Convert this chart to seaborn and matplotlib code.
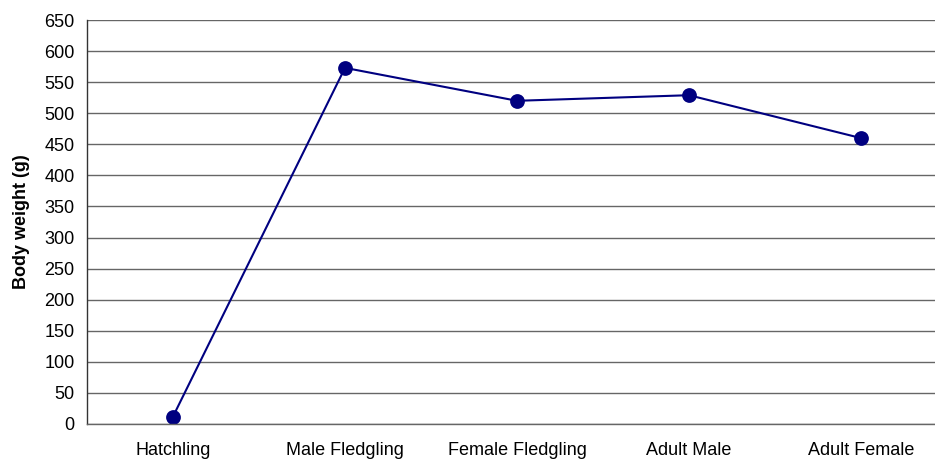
import matplotlib
matplotlib.use("Agg")
import matplotlib.pyplot as plt
import seaborn as sns
import numpy as np
import pandas as pd

categories = ["Hatchling", "Male Fledgling", "Female Fledgling", "Adult Male", "Adult Female"]
body_weight = [12, 573, 520, 529, 460]
y_ticks = list(range(0, 651, 50))

sns.set_style("white")
plt.rcParams['font.family'] = ['Liberation Sans', 'DejaVu Sans']
plt.rcParams['text.color'] = 'black'
plt.rcParams['axes.labelcolor'] = 'black'
plt.rcParams['xtick.color'] = 'black'
plt.rcParams['ytick.color'] = 'black'

W, H = 935, 462
fig = plt.figure(figsize=(W / 100, H / 100), dpi=100)
left, right, top, bottom = 87, 947, 20, 424
ax = fig.add_axes([left / W, (H - bottom) / H, (right - left) / W, (bottom - top) / H])

df = pd.DataFrame({"stage": categories, "weight": body_weight})
sns.pointplot(data=df, x="stage", y="weight", ax=ax, color="#000080",
              markers="o", markersize=9.5, linewidth=1.5, errorbar=None)

ax.set_xlim(-0.5, len(categories) - 0.5)
ax.set_ylim(0, 650)
ax.set_yticks(y_ticks)
ax.set_yticklabels([str(v) for v in y_ticks], fontsize=13, color="black")
ax.set_xticks(range(len(categories)))
ax.set_xticklabels(categories, fontsize=13, color="black")
ax.set_xticks(np.arange(-0.5, len(categories) + 0.5, 1), minor=True)
ax.tick_params(axis="x", which="major", length=0, pad=13)
ax.tick_params(axis="x", which="minor", length=4, width=1, color="#555555", direction="out")
ax.tick_params(axis="y", which="major", length=4, width=1, color="#555555", direction="out", pad=5)

ax.yaxis.grid(True, color="#666666", linewidth=1)
ax.set_axisbelow(True)
for s in ["top", "right"]:
    ax.spines[s].set_visible(False)
ax.spines["left"].set_color("#333333")
ax.spines["bottom"].set_color("#666666")
ax.spines["left"].set_linewidth(1)
ax.spines["bottom"].set_linewidth(1)

ax.set_xlabel("")
ax.set_ylabel("Body weight (g)", fontsize=13, fontweight="bold", labelpad=10, color="black")

fig.savefig("out.png", dpi=100)
